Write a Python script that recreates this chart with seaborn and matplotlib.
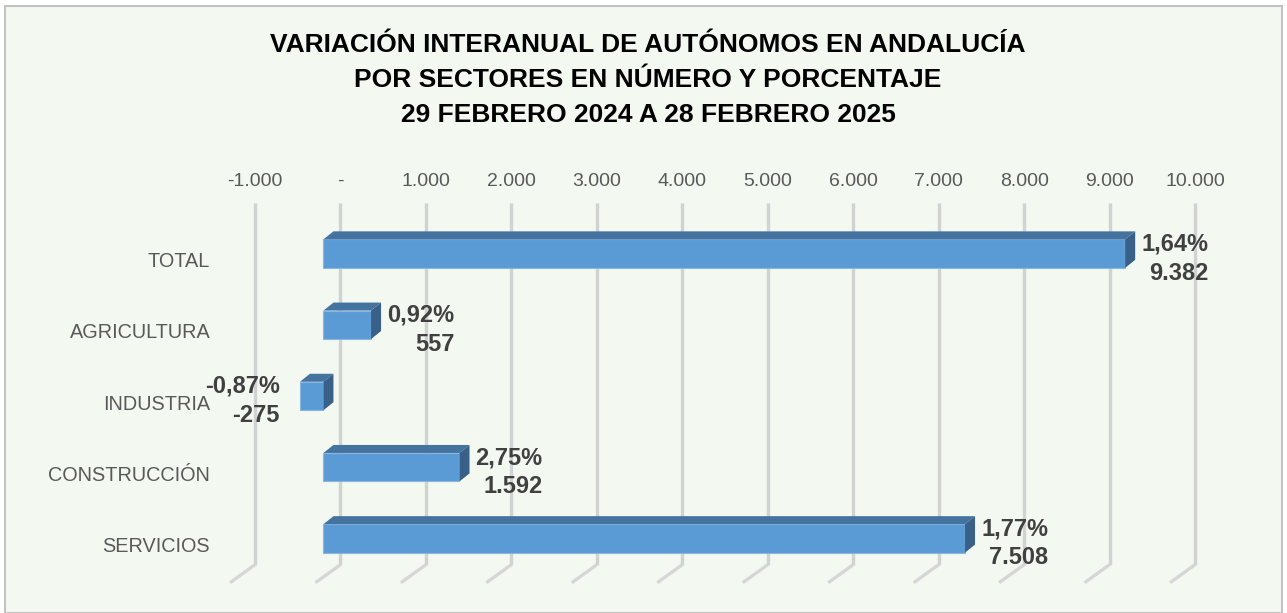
import numpy as np
import matplotlib
matplotlib.use("Agg")
import matplotlib.pyplot as plt
from matplotlib.patches import Rectangle, Polygon
from matplotlib.lines import Line2D
from matplotlib.transforms import ScaledTranslation
from matplotlib.ticker import FuncFormatter
import seaborn as sns

categories = ["TOTAL", "AGRICULTURA", "INDUSTRIA", "CONSTRUCCIÓN", "SERVICIOS"]
values = [9382, 557, -275, 1592, 7508]
pct = [1.64, 0.92, -0.87, 2.75, 1.77]
xticks = [-1000, 0, 1000, 2000, 3000, 4000, 5000, 6000, 7000, 8000, 9000, 10000]
title_lines = ["VARIACIÓN INTERANUAL DE AUTÓNOMOS EN ANDALUCÍA",
               "POR SECTORES EN NÚMERO Y PORCENTAJE",
               "29 FEBRERO 2024 A 28 FEBRERO 2025"]

sns.set_style("white")
plt.rcParams["font.family"] = ["Liberation Sans", "DejaVu Sans"]

BG = "#f3f8f1"
BAR = "#5b9bd5"
TOP = "#44739f"
SIDE = "#386088"
GRID = "#d2d2d2"

W, H = 1287, 613
fig = plt.figure(figsize=(W / 100, H / 100), dpi=100, facecolor="white")
fig.patches.append(Rectangle((5 / W, 0), 1277 / W, 607 / H, transform=fig.transFigure,
                             facecolor=BG, edgecolor="#c3c3c3", linewidth=1.5, zorder=-10))

# front plane of the bars
ax = fig.add_axes([238 / W, 1 - 574 / H, 940 / W, 356 / H])
ax.set_facecolor("none")

sns.barplot(x=values, y=categories, orient="h", color=BAR, saturation=1, width=0.4,
            edgecolor="#8ab6df", linewidth=0.8, ax=ax, zorder=3)
ax.set_xlim(-1000, 10000)
ax.set_ylim(4.5, -0.5)
for s in ax.spines.values():
    s.set_visible(False)

# back wall (gridlines) sits up and to the right of the bars
shift = ScaledTranslation(17 / 100, 15 / 100, fig.dpi_scale_trans)
back = ax.transData + shift
floor_y = 4.58
ax.vlines(xticks, -0.5, floor_y, colors=GRID, linewidth=2.4, transform=back,
          zorder=1, clip_on=False)
inv = ax.transData.inverted()
for xv in xticks:
    p0 = back.transform((xv, floor_y))
    p1 = p0 + np.array([-25, -18])
    d = inv.transform([p0, p1])
    ax.add_line(Line2D(d[:, 0], d[:, 1], color="#d6d6d6", linewidth=2.4, zorder=1,
                       clip_on=False, solid_capstyle="butt"))

ax.xaxis.tick_top()
ax.set_xticks(xticks)
ax.xaxis.set_major_formatter(FuncFormatter(
    lambda v, _: "-" if v == 0 else f"{v:,.0f}".replace(",", ".")))
ax.tick_params(axis="x", length=0, pad=9.5, labelsize=14, labelcolor="#595959")
ax.tick_params(axis="y", length=0, pad=20, labelsize=14.3, labelcolor="#595959")
for lbl in ax.get_xticklabels():
    lbl.set_transform(lbl.get_transform() + shift)
for lbl in ax.get_yticklabels():
    lbl.set_transform(lbl.get_transform() + ScaledTranslation(0, -6 / 100, fig.dpi_scale_trans))
ax.set_xlabel("")
ax.set_ylabel("")

# 3d faces on each bar
for p in list(ax.patches):
    x0, x1 = p.get_x(), p.get_x() + p.get_width()
    y0, y1 = p.get_y(), p.get_y() + p.get_height()
    (ax0, ay0), (ax1, ay1) = ax.transData.transform([(min(x0, x1), y0), (max(x0, x1), y1)])
    top_y, bot_y = max(ay0, ay1), min(ay0, ay1)
    dx, dy = 10, 8
    topf = [(ax0, top_y), (ax1, top_y), (ax1 + dx, top_y + dy), (ax0 + dx, top_y + dy)]
    side = [(ax1, top_y), (ax1, bot_y), (ax1 + dx, bot_y + dy), (ax1 + dx, top_y + dy)]
    ax.add_patch(Polygon(inv.transform(topf), closed=True, facecolor=TOP, edgecolor="none", zorder=3))
    ax.add_patch(Polygon(inv.transform(side), closed=True, facecolor=SIDE, edgecolor="none", zorder=3))

# data labels
for i, (v, pc) in enumerate(zip(values, pct)):
    txt = f"{pc:.2f}%".replace(".", ",") + "\n" + f"{v:,.0f}".replace(",", ".")
    if v >= 0:
        off, ha = (16, -5), "left"
    else:
        off, ha = (-20, -5), "right"
    ax.annotate(txt, xy=(v, i), xytext=off, textcoords="offset pixels",
                ha=ha, va="center", multialignment="right", fontsize=17,
                fontweight="bold", color="#404040", linespacing=1.34, zorder=5)

for k, line in enumerate(title_lines):
    fig.text(648 / W, 1 - (45 + 35 * k) / H, line, ha="center", va="center",
             fontsize=19, fontweight="bold", color="black")

fig.savefig("out.png", dpi=100, facecolor="white")
